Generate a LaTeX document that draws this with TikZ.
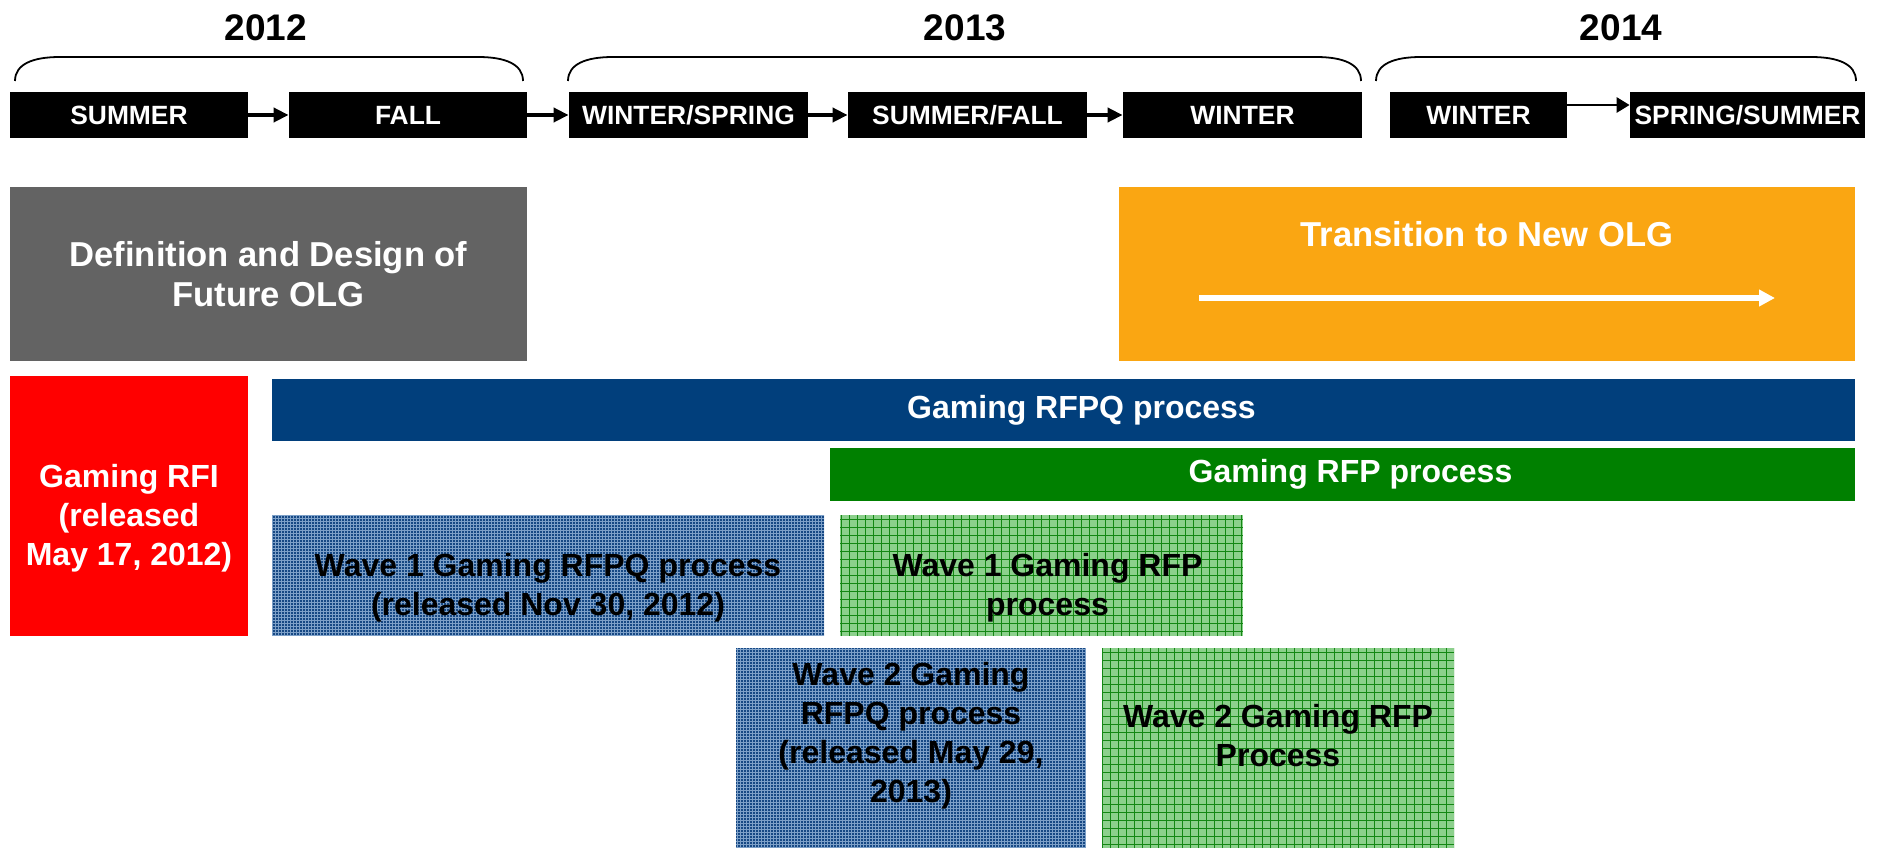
\documentclass[tikz,border=0pt]{standalone}
\usepackage{fontspec}
\setmainfont{Liberation Sans}
\usetikzlibrary{arrows.meta}
\definecolor{olggray}{RGB}{99,99,99}
\definecolor{olgorange}{RGB}{250,166,18}
\definecolor{olgred}{RGB}{255,0,0}
\definecolor{olgblue}{RGB}{1,63,124}
\definecolor{olggreen}{RGB}{0,128,0}
\definecolor{texblue}{RGB}{22,72,132}
\definecolor{texblueline}{RGB}{125,160,200}
\definecolor{texgreen}{RGB}{140,208,140}
\definecolor{texgreenline}{RGB}{20,135,20}

\begin{document}
\begin{tikzpicture}[x=0.5pt,y=-0.5pt,
	season/.style={fill=black,text=white,minimum height=23pt,inner sep=0pt,font=\fontsize{13.2}{16}\selectfont\bfseries},
	year/.style={inner sep=0pt,font=\fontsize{18.5}{22}\selectfont\bfseries},
	block/.style={inner sep=0pt,align=center,font=\fontsize{16}{19.5}\selectfont\bfseries},
	big/.style={block,text=white,font=\fontsize{17.3}{20}\selectfont\bfseries},
	blue tex/.style={block,fill=texblue,path picture={\draw[texblueline,line width=0.2pt,step=1.5pt] (path picture bounding box.south west) grid (path picture bounding box.north east);}},
	green tex/.style={block,fill=texgreen,path picture={\draw[texgreenline,line width=0.4pt,step=4pt] (path picture bounding box.south west) grid (path picture bounding box.north east);}},
	season arrow/.style={-{Triangle[length=7.5pt,width=7pt]},line width=2pt},
	thin arrow/.style={-{Triangle[length=6.5pt,width=7.5pt]},line width=1.4pt}]
	\useasboundingbox (0,0) rectangle (1879,850);
	% years and braces
	\draw (266,28) node(y12) [year] {2012}
	      (965,28) node(y13) [year] {2013}
	      (1621,28) node(y14) [year] {2014};
	\foreach \a/\b in {15/523, 568/1361, 1376/1856}
		\draw[line width=0.9pt] (\a,81) .. controls (\a,64) and (\a+18,57) .. (\a+45,57) -- (\b-45,57) .. controls (\b-18,57) and (\b,64) .. (\b,81);
	% seasons
	\draw (129,115) node(sum12) [season, minimum width=119pt] {SUMMER}
	      (408,115) node(fall12) [season, minimum width=119pt] {FALL}
	      (688.5,115) node(winspr13) [season, minimum width=119.5pt] {WINTER/SPRING}
	      (967.5,115) node(sumfall13) [season, minimum width=119.5pt] {SUMMER/FALL}
	      (1242.5,115) node(win13) [season, minimum width=119.5pt] {WINTER}
	      (1478.5,115) node(win14) [season, minimum width=88.5pt] {WINTER}
	      (1747.5,115) node(sprsum14) [season, minimum width=117.5pt] {SPRING/SUMMER};
	\draw[season arrow] (sum12) -- (fall12);
	\draw[season arrow] (fall12) -- (winspr13);
	\draw[season arrow] (winspr13) -- (sumfall13);
	\draw[season arrow] (sumfall13) -- (win13);
	\draw[thin arrow] ([yshift=5pt]win14.east) -- ([yshift=5pt]sprsum14.west);
	% phases
	\draw (268.5,274) node(design) [big, fill=olggray, minimum width=258.5pt, minimum height=87pt] {Definition and Design of\\Future OLG};
	\draw (1487,274) node(trans) [big, fill=olgorange, minimum width=368pt, minimum height=87pt] {};
	\node (translbl) [big] at (1487,234) {Transition to New OLG};
	\coordinate (tstart) at (1199,298);
	\coordinate (tend) at (1775,298);
	\draw[white, line width=3pt, -{Triangle[length=8pt,width=8pt]}] (tstart) -- (tend);
	% procurement
	\draw (129,506) node(rfi) [fill=olgred, minimum width=119pt, minimum height=130pt, inner sep=0pt] {}
	      (1063.5,410) node(rfpq) [fill=olgblue, minimum width=791.5pt, minimum height=31pt, inner sep=0pt] {}
	      (1342.5,474.5) node(rfp) [fill=olggreen, minimum width=512.5pt, minimum height=26.5pt, inner sep=0pt] {}
	      (548,575.5) node(w1rfpq) [blue tex, minimum width=276pt, minimum height=60.5pt] {}
	      (1041.5,575.5) node(w1rfp) [green tex, minimum width=201.5pt, minimum height=60.5pt] {}
	      (911,748) node(w2rfpq) [blue tex, minimum width=175pt, minimum height=100pt] {}
	      (1278,748) node(w2rfp) [green tex, minimum width=176pt, minimum height=100pt] {};
	\node (rfitxt) [block, text=white] at ([yshift=-6pt]rfi.center) {Gaming RFI\\(released\\May 17, 2012)};
	\node (rfpqtxt) [block, text=white] at ([xshift=9pt]rfpq.center) {Gaming RFPQ process};
	\node (rfptxt) [block, text=white] at ([xshift=4pt]rfp.center) {Gaming RFP process};
	\node (w1rfpqtxt) [block] at ([yshift=-6pt]w1rfpq.center) {Wave 1 Gaming RFPQ process\\(released Nov 30, 2012)};
	\node (w1rfptxt) [block] at ([xshift=3pt,yshift=-6pt]w1rfp.center) {Wave 1 Gaming RFP\\process};
	\node (w2rfpqtxt) [block] at ([yshift=6pt]w2rfpq.center) {Wave 2 Gaming\\RFPQ process\\(released May 29,\\2013)};
	\node (w2rfptxt) [block] at ([yshift=6pt]w2rfp.center) {Wave 2 Gaming RFP\\Process};
\end{tikzpicture}
\end{document}
